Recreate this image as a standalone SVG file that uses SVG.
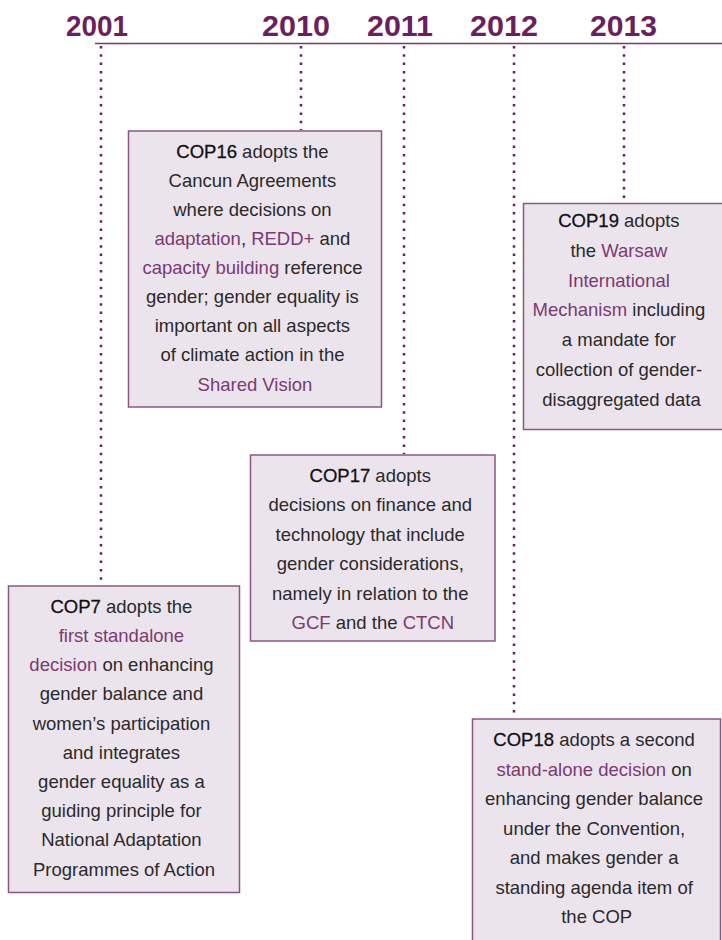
<svg xmlns="http://www.w3.org/2000/svg" width="722" height="940" viewBox="0 0 722 940">
<style>
.yr{font-family:"Liberation Sans",Arial,sans-serif;font-weight:bold;font-size:29px;fill:#6b1f5f}
.box{fill:#ece4ed;stroke:#8a5784;stroke-width:1.5}
.t{font-family:"Liberation Sans",Arial,sans-serif;font-size:18.5px;fill:#2a2a2a;text-anchor:middle}
.c{fill:#111;stroke:#111;stroke-width:0.3}
.p{fill:#7a3a72}
.dot{stroke:#6b1f5f;stroke-width:2.5;stroke-dasharray:2.5 5.8;fill:none}
.axis{stroke:#7a3a72;stroke-width:1.5}
</style>
<rect width="722" height="940" fill="#ffffff"/>
<g id="years">
<text class="yr" x="66" y="36" textLength="62" lengthAdjust="spacingAndGlyphs">2001</text>
<text class="yr" x="262" y="36" textLength="68" lengthAdjust="spacingAndGlyphs">2010</text>
<text class="yr" x="367" y="36" textLength="66" lengthAdjust="spacingAndGlyphs">2011</text>
<text class="yr" x="470" y="36" textLength="68" lengthAdjust="spacingAndGlyphs">2012</text>
<text class="yr" x="590" y="36" textLength="67" lengthAdjust="spacingAndGlyphs">2013</text>
</g>
<g id="connectors">
<line class="axis" x1="95" y1="43.5" x2="722" y2="43.5"/>
<line class="dot" x1="101" y1="46" x2="101" y2="585"/>
<line class="dot" x1="301" y1="46" x2="301" y2="130"/>
<line class="dot" x1="404" y1="46" x2="404" y2="454"/>
<line class="dot" x1="514" y1="46" x2="514" y2="718"/>
<line class="dot" x1="624" y1="46" x2="624" y2="202"/>
</g>
<g id="cop16">
<rect class="box" x="128.5" y="131" width="253" height="276"/>
<text class="t" y="157.7">
<tspan x="255"><tspan class="c">COP16</tspan> adopts the</tspan>
<tspan x="255" dy="29.1">Cancun Agreements</tspan>
<tspan x="255" dy="29.1">where decisions on</tspan>
<tspan x="255" dy="29.1"><tspan class="p">adaptation</tspan>, <tspan class="p">REDD+</tspan> and</tspan>
<tspan x="255" dy="29.1"><tspan class="p">capacity building</tspan> reference</tspan>
<tspan x="255" dy="29.1">gender; gender equality is</tspan>
<tspan x="255" dy="29.1">important on all aspects</tspan>
<tspan x="255" dy="29.1">of climate action in the</tspan>
<tspan x="255" dy="29.1" class="p">Shared Vision</tspan>
</text>
</g>
<g id="cop19">
<rect class="box" x="523.5" y="203.5" width="210" height="226"/>
<text class="t" y="227">
<tspan x="621.5"><tspan class="c">COP19</tspan> adopts</tspan>
<tspan x="621.5" dy="29.8">the <tspan class="p">Warsaw</tspan></tspan>
<tspan x="621.5" dy="29.8" class="p">International</tspan>
<tspan x="621.5" dy="29.8"><tspan class="p">Mechanism</tspan> including</tspan>
<tspan x="621.5" dy="29.8">a mandate for</tspan>
<tspan x="621.5" dy="29.8">collection of gender-</tspan>
<tspan x="621.5" dy="29.8">disaggregated data</tspan>
</text>
</g>
<g id="cop17">
<rect class="box" x="250.5" y="455" width="244.5" height="186"/>
<text class="t" y="481.7">
<tspan x="372.8"><tspan class="c">COP17</tspan> adopts</tspan>
<tspan x="372.8" dy="29.5">decisions on finance and</tspan>
<tspan x="372.8" dy="29.5">technology that include</tspan>
<tspan x="372.8" dy="29.5">gender considerations,</tspan>
<tspan x="372.8" dy="29.5">namely in relation to the</tspan>
<tspan x="372.8" dy="29.5"><tspan class="p">GCF</tspan> and the <tspan class="p">CTCN</tspan></tspan>
</text>
</g>
<g id="cop7">
<rect class="box" x="8.5" y="586" width="231" height="306.5"/>
<text class="t" y="612.7">
<tspan x="124"><tspan class="c">COP7</tspan> adopts the</tspan>
<tspan x="124" dy="29.2" class="p">first standalone</tspan>
<tspan x="124" dy="29.2"><tspan class="p">decision</tspan> on enhancing</tspan>
<tspan x="124" dy="29.2">gender balance and</tspan>
<tspan x="124" dy="29.2">women’s participation</tspan>
<tspan x="124" dy="29.2">and integrates</tspan>
<tspan x="124" dy="29.2">gender equality as a</tspan>
<tspan x="124" dy="29.2">guiding principle for</tspan>
<tspan x="124" dy="29.2">National Adaptation</tspan>
<tspan x="124" dy="29.2">Programmes of Action</tspan>
</text>
</g>
<g id="cop18">
<rect class="box" x="472.5" y="719" width="248" height="240"/>
<text class="t" y="746">
<tspan x="596.7"><tspan class="c">COP18</tspan> adopts a second</tspan>
<tspan x="596.7" dy="29.5"><tspan class="p">stand-alone decision</tspan> on</tspan>
<tspan x="596.7" dy="29.5">enhancing gender balance</tspan>
<tspan x="596.7" dy="29.5">under the Convention,</tspan>
<tspan x="596.7" dy="29.5">and makes gender a</tspan>
<tspan x="596.7" dy="29.5">standing agenda item of</tspan>
<tspan x="596.7" dy="29.5">the COP</tspan>
</text>
</g>
</svg>
